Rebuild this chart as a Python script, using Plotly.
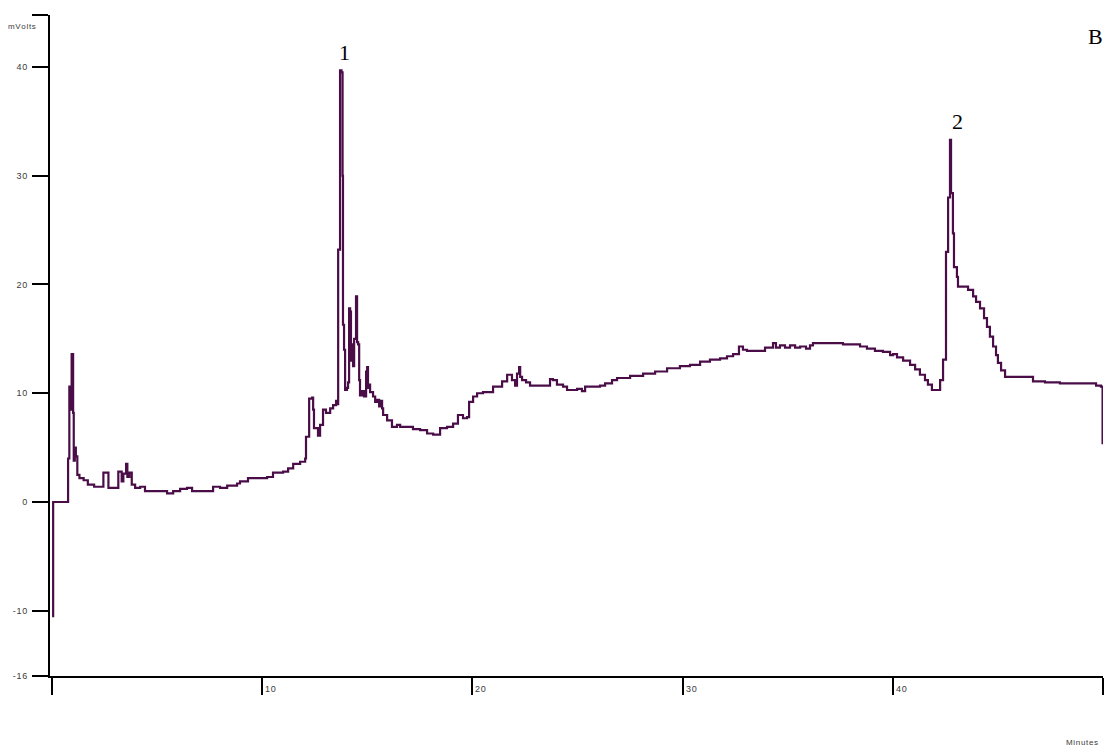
import plotly.graph_objects as go

# Chromatogram trace (minutes, mVolts)
time_min = [
    0.00, 0.05, 0.76, 0.82, 0.88, 0.93, 1.00, 1.03, 1.08, 1.13, 1.20, 1.30, 1.50, 1.70, 2.00,
    2.44, 2.68, 3.15, 3.31, 3.39, 3.52, 3.58, 3.68, 3.79, 3.95, 4.19, 4.42,
    5.28, 5.47, 5.76, 6.09, 6.42, 6.66, 7.61, 7.66, 7.99, 8.33, 8.80, 8.94, 9.18, 9.32,
    10.23, 10.51, 10.99, 11.23, 11.47, 11.80, 12.04, 12.08, 12.23, 12.37, 12.42, 12.46,
    12.65, 12.75, 12.89, 13.03, 13.23, 13.37, 13.51, 13.56, 13.61, 13.70, 13.77, 13.82,
    13.84, 13.89, 13.94, 14.03, 14.08, 14.13, 14.18, 14.22, 14.27, 14.32, 14.37, 14.46,
    14.51, 14.56, 14.61, 14.65, 14.75, 14.84, 14.94, 14.99, 15.03, 15.08, 15.13, 15.27,
    15.37, 15.46, 15.56, 15.65, 15.70, 15.75, 15.94, 16.17, 16.41, 16.56, 17.03, 17.17,
    17.51, 17.84, 18.13, 18.46, 18.79, 19.08, 19.31, 19.55, 19.74, 19.84, 20.03, 20.22,
    20.50, 20.98, 21.41, 21.65, 21.88, 22.03, 22.12, 22.22, 22.27, 22.36, 22.55, 22.74,
    23.55, 23.69, 23.83, 24.02, 24.31, 24.50, 24.98, 25.21, 25.36, 26.07, 26.31, 26.64,
    26.88, 27.50, 28.12, 28.69, 29.26, 29.87, 30.35, 30.83, 31.30, 31.78, 32.11, 32.40,
    32.68, 32.87, 33.06, 33.59, 33.92, 34.30, 34.44, 34.63, 34.87, 35.11, 35.35, 35.59,
    35.87, 36.06, 36.20, 37.63, 38.44, 38.77, 39.15, 39.53, 39.87, 40.01, 40.20, 40.49,
    40.82, 41.06, 41.29, 41.53, 41.67, 41.86, 42.15, 42.25, 42.39, 42.53, 42.63, 42.72,
    42.77, 42.86, 42.91, 43.05, 43.10, 43.58, 43.82, 43.96, 44.15, 44.34, 44.48, 44.62,
    44.77, 44.91, 45.00, 45.15, 45.34, 46.53, 46.67, 47.24, 47.95, 49.38, 49.67, 49.90,
    49.98,
]
signal_mv = [
    -10.5, 0.0, 4.0, 10.6, 8.5, 13.6, 8.2, 3.8, 5.0, 4.2, 2.5, 2.2, 2.0, 1.6, 1.4,
    2.7, 1.3, 2.8, 1.9, 2.6, 3.5, 2.3, 2.7, 1.6, 1.3, 1.4, 1.0,
    1.0, 0.8, 1.0, 1.2, 1.3, 1.0, 1.0, 1.4, 1.3, 1.5, 1.7, 1.9, 1.9, 2.2,
    2.3, 2.7, 2.8, 3.1, 3.5, 3.7, 4.0, 6.0, 9.5, 9.6, 8.5, 6.8,
    6.1, 7.1, 8.5, 8.2, 8.6, 8.9, 9.3, 9.0, 23.2, 39.7, 39.5, 30.0,
    16.3, 14.0, 10.3, 10.5, 11.0, 17.8, 17.5, 13.0, 14.5, 12.5, 15.0, 18.9,
    14.7, 14.5, 11.2, 9.8, 10.2, 9.7, 12.0, 12.4, 10.5, 10.8, 10.1, 9.7,
    9.2, 9.4, 8.8, 9.3, 8.6, 8.0, 7.5, 6.9, 7.1, 6.9, 6.9, 6.7,
    6.6, 6.3, 6.2, 6.8, 6.9, 7.2, 8.0, 7.7, 7.8, 9.2, 9.7, 10.0,
    10.1, 10.6, 11.1, 11.7, 11.2, 10.7, 11.8, 12.4, 11.5, 11.2, 11.0, 10.7,
    10.7, 11.3, 11.2, 10.8, 10.6, 10.3, 10.4, 10.2, 10.6, 10.7, 10.9, 11.2,
    11.4, 11.6, 11.8, 12.0, 12.3, 12.5, 12.6, 12.9, 13.1, 13.2, 13.4, 13.6,
    14.3, 14.0, 13.9, 13.9, 14.2, 14.6, 14.2, 14.4, 14.2, 14.4, 14.2, 14.3,
    14.1, 14.4, 14.6, 14.5, 14.3, 14.1, 13.9, 13.8, 13.5, 13.6, 13.3, 13.0,
    12.6, 12.2, 11.7, 11.2, 10.8, 10.3, 10.3, 11.2, 13.1, 23.0, 28.0, 33.3,
    28.4, 24.7, 21.6, 20.7, 19.8, 19.5, 18.9, 18.4, 17.8, 16.9, 16.1, 15.2,
    14.3, 13.5, 12.8, 12.1, 11.5, 11.5, 11.1, 11.0, 10.9, 10.9, 10.7, 10.6,
    5.3,
]

y_tick_values = [-16, -10, 0, 10, 20, 30, 40, 44.78]
y_tick_labels = ["-16", "-10", "0", "10", "20", "30", "40", ""]
x_tick_values = [0, 10, 20, 30, 40, 50]
x_tick_labels = ["", "10", "20", "30", "40", ""]

peak_labels = ["1", "2"]
peak_label_x = [13.9, 43.1]
peak_label_y = [41.3, 35.0]

SP = "\u200a"


def spaced(s):
    return SP.join(list(s))


fig = go.Figure()
fig.add_trace(go.Scatter(
    x=time_min, y=signal_mv, mode="lines",
    line=dict(color="#4a0d48", width=2.2, shape="hv"),
    showlegend=False, hoverinfo="skip",
))

tick_font = dict(family="Liberation Sans, Arial, sans-serif", size=9, color="#3a3a3a")
title_font = dict(family="Liberation Sans, Arial, sans-serif", size=8, color="#3a3a3a")

fig.update_layout(
    width=1108, height=749,
    margin=dict(l=50, r=5, t=15, b=73),
    paper_bgcolor="white", plot_bgcolor="white",
    xaxis=dict(
        range=[-0.1, 50], showgrid=False, zeroline=False,
        showline=True, linecolor="black", linewidth=2,
        ticks="outside", ticklen=17, tickwidth=2, tickcolor="black",
        tickmode="array", tickvals=x_tick_values,
        ticktext=["" for _ in x_tick_values], tickfont=tick_font,
    ),
    yaxis=dict(
        range=[-16, 44.78], showgrid=False, zeroline=False,
        showline=True, linecolor="black", linewidth=2,
        ticks="outside", ticklen=16, tickwidth=2, tickcolor="black",
        tickmode="array", tickvals=y_tick_values,
        ticktext=[spaced(t) for t in y_tick_labels], tickfont=tick_font,
        ticklabelstandoff=3,
    ),
)

annotations = []
for xv, lab in zip(x_tick_values, x_tick_labels):
    if lab:
        annotations.append(dict(
            x=xv, y=0, xref="x", yref="paper", text=spaced(lab),
            showarrow=False, xanchor="left", yanchor="middle",
            xshift=1, yshift=-13, font=tick_font,
        ))
for lab, xv, yv in zip(peak_labels, peak_label_x, peak_label_y):
    annotations.append(dict(
        x=xv, y=yv, xref="x", yref="y", text=lab, showarrow=False,
        xanchor="center", yanchor="middle",
        font=dict(family="Liberation Serif, Times New Roman, serif", size=22, color="black"),
    ))
annotations.append(dict(
    x=0.993, y=0.967, xref="paper", yref="paper", text="B", showarrow=False,
    xanchor="center", yanchor="middle",
    font=dict(family="Liberation Serif, Times New Roman, serif", size=22, color="black"),
))
annotations.append(dict(
    x=-0.0114, y=0.983, xref="paper", yref="paper", text=spaced("mVolts"),
    showarrow=False, xanchor="right", yanchor="middle", font=title_font,
))
annotations.append(dict(
    x=0.997, y=-0.101, xref="paper", yref="paper", text=spaced("Minutes"),
    showarrow=False, xanchor="right", yanchor="middle", font=title_font,
))
fig.update_layout(annotations=annotations)

fig.write_html("out.html")
